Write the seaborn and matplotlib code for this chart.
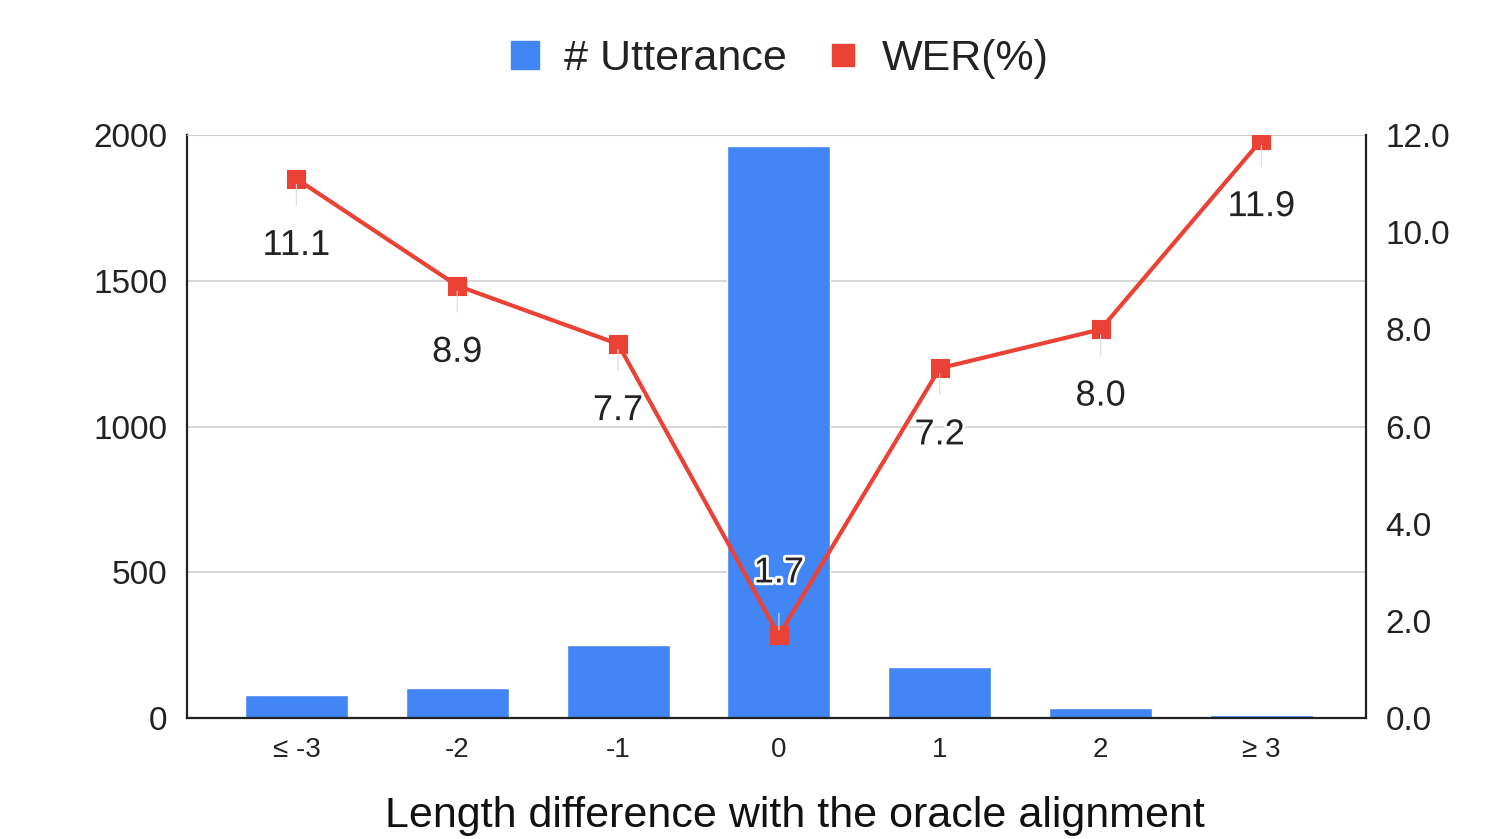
import seaborn as sns
import matplotlib.pyplot as plt
import matplotlib.patheffects as pe
from matplotlib.lines import Line2D

categories = ['≤ -3', '-2', '-1', '0', '1', '2', '≥ 3']
utterances = [79, 102, 250, 1962, 175, 35, 10]
wer = [11.1, 8.9, 7.7, 1.7, 7.2, 8.0, 11.9]

blue = '#4285F4'
red = '#EA4335'

sns.set_style('white')
plt.rcParams['font.family'] = ['Liberation Sans', 'DejaVu Sans']

fig, ax = plt.subplots(figsize=(15.12, 8.39), dpi=100)
fig.subplots_adjust(left=0.1237, right=0.9034, top=0.839, bottom=0.1442)

sns.barplot(x=categories, y=utterances, color=blue, width=0.64, saturation=1, ax=ax, zorder=2)
ax.set_ylim(0, 2000)
ax.set_yticks([0, 500, 1000, 1500, 2000])
ax.yaxis.grid(True, color='#d0d0d0', lw=1.2, zorder=0)
ax.set_axisbelow(True)
ax.set_xlim(-0.68, 6.65)
ax.tick_params(axis='y', labelsize=24, length=0, pad=14, colors='#222222')
ax.tick_params(axis='x', labelsize=20, length=0, pad=14, colors='#222222')
ax.set_xlabel('Length difference with the oracle alignment', fontsize=31, color='#111111')
ax.xaxis.set_label_coords(0.516, -0.133)
for s in ['left', 'bottom']:
    ax.spines[s].set_color('#222222')
    ax.spines[s].set_linewidth(1.6)
ax.spines['top'].set_color('#d0d0d0')
ax.spines['right'].set_visible(False)

ax2 = ax.twinx()
sns.pointplot(x=categories, y=wer, color=red, markers='s', markersize=11, linewidth=3, ax=ax2)
ax2.set_ylim(0, 12)
ax2.set_yticks([0, 2, 4, 6, 8, 10, 12])
ax2.set_yticklabels([f'{v:.1f}' for v in range(0, 13, 2)])
ax2.tick_params(axis='y', labelsize=24, length=0, pad=14, colors='#222222')
ax2.set_ylabel('')
ax2.set_xlim(-0.68, 6.65)
for s in ['left', 'top', 'bottom']:
    ax2.spines[s].set_visible(False)
ax2.spines['right'].set_color('#222222')
ax2.spines['right'].set_linewidth(1.6)

for i, v in enumerate(wer):
    dy = 45 if v < 3 else -48
    ax2.annotate(f'{v:.1f}', xy=(i, v), xytext=(0, dy), textcoords='offset points',
                 ha='center', va='center', fontsize=26, color='#222222',
                 path_effects=[pe.withStroke(linewidth=4, foreground='white')],
                 arrowprops=dict(arrowstyle='-', color='#dddddd', lw=0.8, shrinkA=14, shrinkB=4),
                 zorder=5)

handles = [Line2D([], [], marker='s', color=blue, ls='none', markersize=20),
           Line2D([], [], marker='s', color=red, ls='none', markersize=16)]
fig.legend(handles, ['# Utterance', 'WER(%)'], loc='center', bbox_to_anchor=(0.512, 0.93),
           ncol=2, frameon=False, fontsize=31, handletextpad=0.3, columnspacing=0.7,
           handlelength=1.2, labelcolor='#222222')

plt.savefig('out.png')
